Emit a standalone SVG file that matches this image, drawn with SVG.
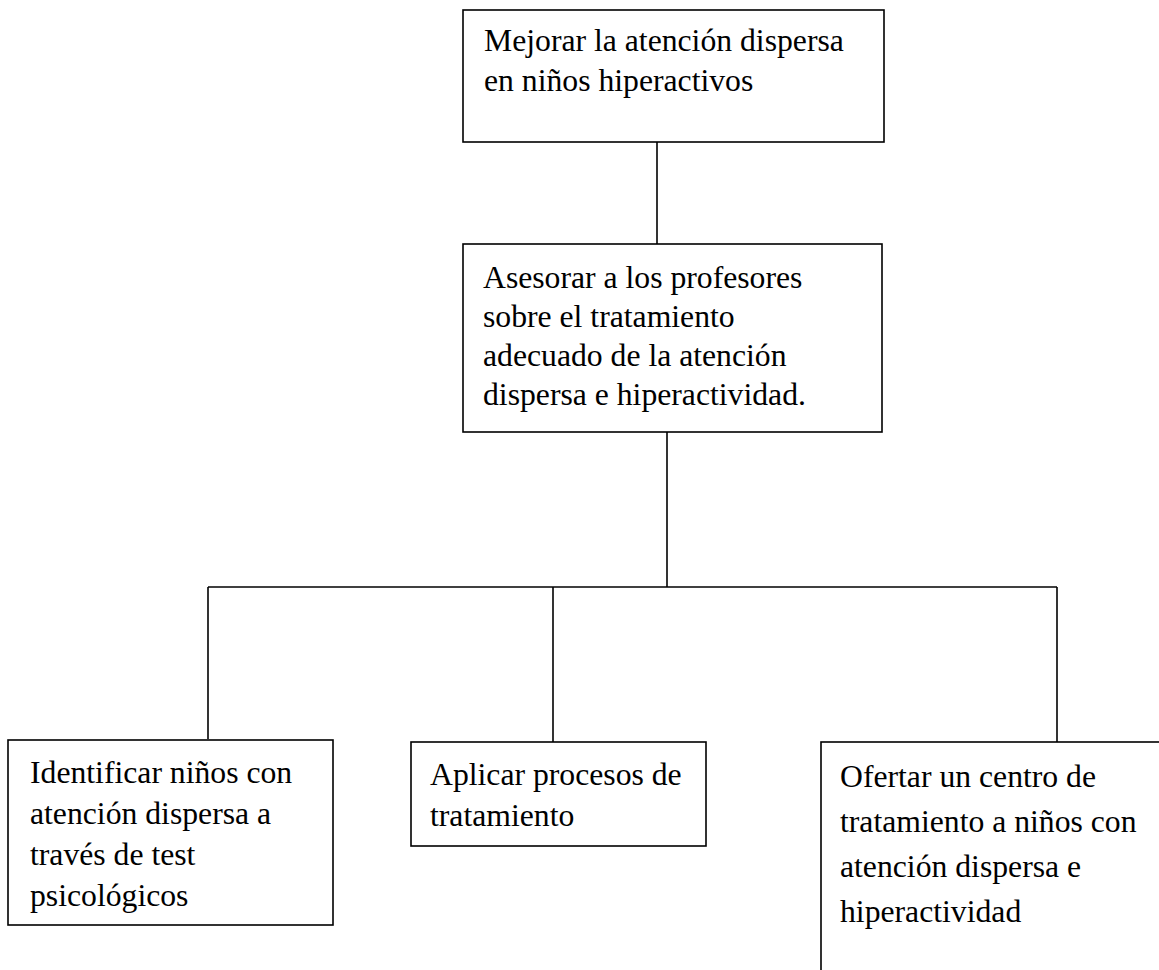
<svg xmlns="http://www.w3.org/2000/svg" width="1159" height="970" viewBox="0 0 1159 970">
<style>
.box{fill:#fff;stroke:#000;stroke-width:1.6}
.ln{fill:none;stroke:#000;stroke-width:1.6}
text{font-family:"Liberation Serif","Times New Roman",serif;font-size:31.7px;fill:#000}
</style>
<rect width="1159" height="970" fill="#fff"/>
<g id="connectors">
<line class="ln" x1="657" y1="142" x2="657" y2="244"/>
<line class="ln" x1="667" y1="432" x2="667" y2="587"/>
<line class="ln" x1="208" y1="587" x2="1057" y2="587"/>
<line class="ln" x1="208" y1="587" x2="208" y2="739"/>
<line class="ln" x1="553" y1="587" x2="553" y2="742"/>
<line class="ln" x1="1057" y1="587" x2="1057" y2="742"/>
</g>
<g id="n1">
<rect class="box" x="463" y="10" width="421" height="132"/>
<text x="484" y="51">Mejorar la atención dispersa</text>
<text x="484" y="91">en niños hiperactivos</text>
</g>
<g id="n2">
<rect class="box" x="463" y="244" width="419" height="188"/>
<text x="483" y="288">Asesorar a los profesores</text>
<text x="483" y="327">sobre el tratamiento</text>
<text x="483" y="366">adecuado de la atención</text>
<text x="483" y="405">dispersa e hiperactividad.</text>
</g>
<g id="n3">
<rect class="box" x="8" y="740" width="325" height="185"/>
<text x="30" y="783">Identificar niños con</text>
<text x="30" y="824">atención dispersa a</text>
<text x="30" y="865">través de test</text>
<text x="30" y="906">psicológicos</text>
</g>
<g id="n4">
<rect class="box" x="411" y="742" width="295" height="104"/>
<text x="430" y="785">Aplicar procesos de</text>
<text x="430" y="826">tratamiento</text>
</g>
<g id="n5">
<rect class="box" x="821" y="742" width="360" height="240"/>
<text x="840" y="787">Ofertar un centro de</text>
<text x="840" y="832">tratamiento a niños con</text>
<text x="840" y="877">atención dispersa e</text>
<text x="840" y="922">hiperactividad</text>
</g>
</svg>
